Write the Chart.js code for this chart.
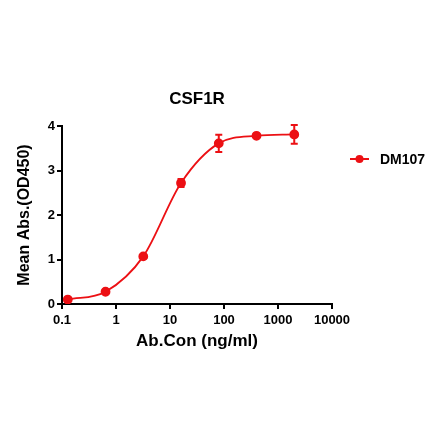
<!DOCTYPE html>
<html>
<head>
<meta charset="utf-8">
<script src="https://cdn.jsdelivr.net/npm/chart.js@4"></script>
<style>
    body { margin: 0; background: #fff; }
    #wrap { width: 440px; height: 441px; position: relative; }
</style>
</head>
<body>
<div id="wrap"><canvas id="curve-chart"></canvas></div>
<script>
// dilution series (ng/ml) and readings
const concentrations = [0.128, 0.64, 3.2, 16, 80, 400, 2000];
const meanAbs = [0.10, 0.275, 1.07, 2.72, 3.61, 3.78, 3.81];
const errAbs = [0.02, 0.02, 0.03, 0.09, 0.195, 0.03, 0.21];
const xTicks = [0.1, 1, 10, 100, 1000, 10000];
const yTicks = [0, 1, 2, 3, 4];
const seriesName = "DM107";
const chartTitle = "CSF1R";

const red = "rgb(236, 16, 20)";
const fontFamily = "'Liberation Sans', Arial, sans-serif";

// error bars with caps, drawn through the scales
const errorBars = {
    id: "errorBars",
    afterDatasetsDraw(chart) {
        const ctx = chart.ctx;
        const xs = chart.scales.x, ys = chart.scales.y;
        ctx.save();
        ctx.strokeStyle = red;
        ctx.lineWidth = 2;
        concentrations.forEach((c, i) => {
            if (errAbs[i] < 0.05) return;
            const px = xs.getPixelForValue(c);
            const top = ys.getPixelForValue(meanAbs[i] + errAbs[i]);
            const bot = ys.getPixelForValue(meanAbs[i] - errAbs[i]);
            ctx.beginPath();
            ctx.moveTo(px, top); ctx.lineTo(px, bot);
            ctx.moveTo(px - 3.5, top); ctx.lineTo(px + 3.5, top);
            ctx.moveTo(px - 3.5, bot); ctx.lineTo(px + 3.5, bot);
            ctx.stroke();
        });
        ctx.restore();
    }
};

// title centred on plot area, legend at the right
const titleAndLegend = {
    id: "titleAndLegend",
    afterDraw(chart) {
        const ctx = chart.ctx;
        const area = chart.chartArea;
        ctx.save();
        ctx.fillStyle = "#000";
        ctx.font = "bold 17px " + fontFamily;
        ctx.textAlign = "center";
        ctx.textBaseline = "middle";
        ctx.fillText(chartTitle, (area.left + area.right) / 2, area.top - 27);

        const ly = area.top + 33;
        const lx = area.right + 18;
        ctx.strokeStyle = red;
        ctx.fillStyle = red;
        ctx.lineWidth = 2;
        ctx.beginPath();
        ctx.moveTo(lx, ly); ctx.lineTo(lx + 19, ly);
        ctx.stroke();
        ctx.beginPath();
        ctx.arc(lx + 9.5, ly, 4, 0, Math.PI * 2);
        ctx.fill();
        ctx.fillStyle = "#000";
        ctx.font = "bold 14px " + fontFamily;
        ctx.textAlign = "left";
        ctx.fillText(seriesName, lx + 30, ly + 1);
        ctx.restore();
    }
};

const ctx = document.getElementById("curve-chart").getContext("2d");
const curveChart = new Chart(ctx, {
    type: "line",
    data: {
        datasets: [
            {
                label: seriesName,
                data: concentrations.map((c, i) => ({ x: c, y: meanAbs[i] })),
                borderColor: red,
                backgroundColor: red,
                borderWidth: 1.8,
                pointRadius: 4,
                pointHoverRadius: 4,
                cubicInterpolationMode: "monotone",
                fill: false,
            },
        ],
    },
    options: {
        responsive: true,
        maintainAspectRatio: false,
        animation: false,
        devicePixelRatio: 1,
        layout: {
            padding: { left: 15, right: 108, top: 126, bottom: 89 },
        },
        plugins: {
            legend: { display: false },
            tooltip: { enabled: false },
        },
        scales: {
            x: {
                type: "logarithmic",
                min: 0.1,
                max: 10000,
                afterBuildTicks: (scale) => {
                    scale.ticks = xTicks.map((v) => ({ value: v, major: true }));
                },
                afterFit: (scale) => { scale.height = 48; },
                ticks: {
                    color: "#000",
                    font: { family: fontFamily, size: 13, weight: "bold" },
                    padding: 4,
                    maxRotation: 0,
                    autoSkip: false,
                    callback: (v) => String(v),
                },
                grid: {
                    display: true,
                    drawOnChartArea: false,
                    drawTicks: true,
                    tickLength: 5,
                    color: "#000",
                    lineWidth: 2,
                },
                border: { color: "#000", width: 2 },
                title: {
                    display: true,
                    text: "Ab.Con (ng/ml)",
                    color: "#000",
                    font: { family: fontFamily, size: 17, weight: "bold" },
                    padding: 0,
                },
            },
            y: {
                min: 0,
                max: 4,
                afterBuildTicks: (scale) => {
                    scale.ticks = yTicks.map((v) => ({ value: v }));
                },
                afterFit: (scale) => { scale.width = 47; },
                ticks: {
                    color: "#000",
                    font: { family: fontFamily, size: 13, weight: "bold" },
                    padding: 2,
                },
                grid: {
                    display: true,
                    drawOnChartArea: false,
                    drawTicks: true,
                    tickLength: 5,
                    color: "#000",
                    lineWidth: 2,
                },
                border: { color: "#000", width: 2 },
                title: {
                    display: true,
                    text: "Mean Abs.(OD450)",
                    color: "#000",
                    font: { family: fontFamily, size: 16, weight: "bold" },
                    padding: 0,
                },
            },
        },
    },
    plugins: [errorBars, titleAndLegend],
});
</script>
</body>
</html>
